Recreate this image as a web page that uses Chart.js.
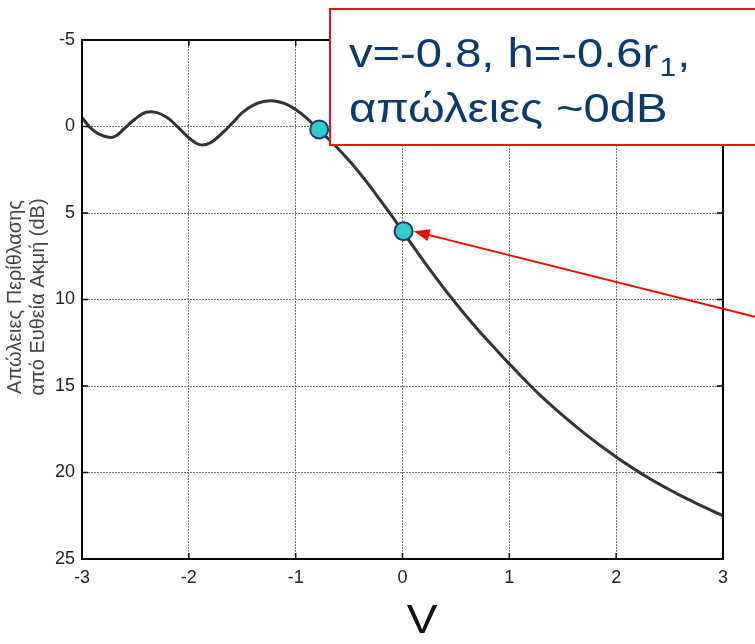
<!DOCTYPE html>
<html>
<head>
<meta charset="utf-8">
<script src="https://cdn.jsdelivr.net/npm/chart.js@4/dist/chart.umd.min.js"></script>
<style>
  html, body { margin: 0; padding: 0; background: #fff; }
  #wrap { width: 755px; height: 644px; }
</style>
</head>
<body>
<div id="wrap"><canvas id="chart"></canvas></div>
<script>
// Καμπύλη απωλειών περίθλασης (ευθεία ακμή), τιμές διαβασμένες από την εικόνα
const vValues = [
  -3.0, -2.9, -2.8, -2.7, -2.6, -2.5, -2.4, -2.3, -2.2, -2.1,
  -2.0, -1.9, -1.8, -1.7, -1.6, -1.5, -1.4, -1.3, -1.2, -1.1,
  -1.0, -0.9, -0.8, -0.7, -0.6, -0.5, -0.4, -0.3, -0.2, -0.1,
   0.0,  0.1,  0.2,  0.3,  0.4,  0.5,  0.6,  0.7,  0.8,  0.9,
   1.0,  1.1,  1.2,  1.3,  1.4,  1.5,  1.6,  1.7,  1.8,  1.9,
   2.0,  2.1,  2.2,  2.3,  2.4,  2.5,  2.6,  2.7,  2.8,  2.9, 3.0
];
const lossValues = [
  -0.5,  0.2,  0.55, 0.6,  0.1, -0.45, -0.82, -0.8, -0.5,  0.05,
   0.65, 1.05, 0.95, 0.45, -0.15, -0.8, -1.22, -1.44, -1.48, -1.32,
  -0.98, -0.5,  0.1,  0.68, 1.3,  1.97,  2.7,  3.49,  4.33,  5.17,
   6.05, 6.93, 7.8,  8.64, 9.45, 10.23, 10.98, 11.7, 12.39, 13.06,
  13.72, 14.37, 15.0, 15.6, 16.16, 16.7, 17.22, 17.72, 18.2, 18.66,
  19.1, 19.52, 19.92, 20.3, 20.66, 21.0, 21.32, 21.63, 21.93, 22.22, 22.5
];

// Σημεία που σημειώνονται στην καμπύλη
const markerV    = [-0.78, 0.01];
const markerLoss = [0.17, 6.05];

// Άξονες
const xTicks = [-3, -2, -1, 0, 1, 2, 3];
const yTicks = [-5, 0, 5, 10, 15, 20, 25];

const yTitle = ['Απώλειες Περίθλασης', 'από Ευθεία Ακμή (dB)'];
const xTitle = 'V';
const noteLine1 = 'v=-0.8, h=-0.6r';
const noteSub   = '1';
const noteLine2 = 'απώλειες ~0dB';

// Αρχή του βέλους έξω από το πλαίσιο (σε μονάδες δεδομένων)
const arrowFrom = { v: 3.3, loss: 11.0 };

const FONT = "'Liberation Sans', Arial, Helvetica, sans-serif";

const curve = vValues.map((v, i) => ({ x: v, y: lossValues[i] }));
const marks = markerV.map((v, i) => ({ x: v, y: markerLoss[i] }));

// Πλαίσιο, εσωτερικές υποδιαιρέσεις, τίτλοι και σημείωση
const decor = {
  id: 'decor',
  afterDatasetsDraw(chart) {
    const { ctx, chartArea: a, scales: { x, y } } = chart;
    ctx.save();

    // εσωτερικά tick marks (στυλ MATLAB)
    ctx.strokeStyle = '#000';
    ctx.lineWidth = 1.5;
    xTicks.forEach(t => {
      const px = x.getPixelForValue(t);
      ctx.beginPath();
      ctx.moveTo(px, a.bottom); ctx.lineTo(px, a.bottom - 6);
      ctx.moveTo(px, a.top);    ctx.lineTo(px, a.top + 6);
      ctx.stroke();
    });
    yTicks.forEach(t => {
      const py = y.getPixelForValue(t);
      ctx.beginPath();
      ctx.moveTo(a.left, py);  ctx.lineTo(a.left + 6, py);
      ctx.moveTo(a.right, py); ctx.lineTo(a.right - 6, py);
      ctx.stroke();
    });

    // πλαίσιο
    ctx.lineWidth = 2;
    ctx.strokeRect(a.left, a.top, a.right - a.left, a.bottom - a.top);

    // τίτλος άξονα y (δύο γραμμές)
    ctx.fillStyle = '#444';
    ctx.font = '20px ' + FONT;
    ctx.textAlign = 'center';
    ctx.textBaseline = 'middle';
    [15, 38].forEach((cx, i) => {
      ctx.save();
      ctx.translate(cx, 297);
      ctx.rotate(-Math.PI / 2);
      ctx.fillText(yTitle[i], 0, 0);
      ctx.restore();
    });

    // τίτλος άξονα x
    ctx.save();
    ctx.fillStyle = '#111';
    ctx.font = '40px ' + FONT;
    ctx.translate(422, 622);
    ctx.scale(1.15, 1);
    ctx.fillText(xTitle, 0, 0);
    ctx.restore();

    // βέλος
    const tx = x.getPixelForValue(markerV[1]) + 10;
    const ty = y.getPixelForValue(markerLoss[1]);
    const fx = x.getPixelForValue(arrowFrom.v);
    const fy = y.getPixelForValue(arrowFrom.loss);
    const ang = Math.atan2(ty - fy, tx - fx);
    ctx.strokeStyle = '#ff0000';
    ctx.fillStyle = '#ff0000';
    ctx.lineWidth = 2;
    ctx.beginPath();
    ctx.moveTo(fx, fy);
    ctx.lineTo(tx - 10 * Math.cos(ang), ty - 10 * Math.sin(ang));
    ctx.stroke();
    ctx.beginPath();
    ctx.moveTo(tx, ty);
    ctx.lineTo(tx - 16 * Math.cos(ang) + 6 * Math.sin(ang), ty - 16 * Math.sin(ang) - 6 * Math.cos(ang));
    ctx.lineTo(tx - 16 * Math.cos(ang) - 6 * Math.sin(ang), ty - 16 * Math.sin(ang) + 6 * Math.cos(ang));
    ctx.closePath();
    ctx.fill();

    // πλαίσιο σημείωσης
    ctx.fillStyle = '#fff';
    ctx.fillRect(330, 9, 440, 136);
    ctx.strokeStyle = '#ee1111';
    ctx.lineWidth = 2;
    ctx.strokeRect(330, 9, 440, 136);

    ctx.fillStyle = '#0b3a6e';
    ctx.textAlign = 'left';
    ctx.textBaseline = 'alphabetic';
    ctx.save();
    ctx.translate(349, 67);
    ctx.scale(1.15, 1);
    ctx.font = '41px ' + FONT;
    ctx.fillText(noteLine1, 0, 0);
    let w = ctx.measureText(noteLine1).width;
    ctx.font = '26px ' + FONT;
    ctx.fillText(noteSub, w + 1, 9);
    w += ctx.measureText(noteSub).width + 2;
    ctx.font = '41px ' + FONT;
    ctx.fillText(',', w, 0);
    ctx.restore();
    ctx.save();
    ctx.translate(349, 122);
    ctx.scale(1.15, 1);
    ctx.font = '41px ' + FONT;
    ctx.fillText(noteLine2, 0, 0);
    ctx.restore();

    ctx.restore();
  }
};

new Chart(document.getElementById('chart'), {
  type: 'line',
  data: {
    datasets: [
      {
        label: 'Απώλειες',
        data: curve,
        borderColor: '#333',
        borderWidth: 3,
        pointRadius: 0,
        tension: 0.4,
        fill: false,
        order: 2,
      },
      {
        label: 'Σημεία',
        type: 'scatter',
        data: marks,
        backgroundColor: '#33cccc',
        borderColor: '#1f3a6e',
        borderWidth: 2,
        pointRadius: 9,
        order: 1,
      }
    ]
  },
  options: {
    responsive: true,
    maintainAspectRatio: false,
    animation: false,
    layout: { padding: { top: 40, right: 32, left: 0, bottom: 0 } },
    plugins: { legend: { display: false }, tooltip: { enabled: false } },
    scales: {
      x: {
        type: 'linear',
        min: -3, max: 3,
        afterFit: s => { s.height = 85; },
        afterBuildTicks: s => { s.ticks = xTicks.map(v => ({ value: v })); },
        grid: { color: '#777', lineWidth: 1, drawTicks: false },
        border: { display: false, dash: [2, 1] },
        ticks: { color: '#222', padding: 8, font: { family: FONT, size: 18 } }
      },
      y: {
        type: 'linear',
        reverse: true,
        min: -5, max: 25,
        afterFit: s => { s.width = 82; },
        afterBuildTicks: s => { s.ticks = yTicks.map(v => ({ value: v })); },
        grid: { color: '#777', lineWidth: 1, drawTicks: false },
        border: { display: false, dash: [2, 1] },
        ticks: { color: '#222', padding: 7, font: { family: FONT, size: 18 } }
      }
    }
  },
  plugins: [decor]
});
</script>
</body>
</html>
